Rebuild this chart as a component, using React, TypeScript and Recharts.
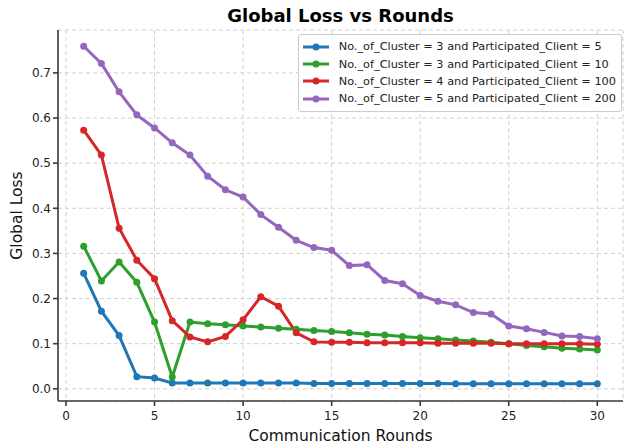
import { CartesianGrid, Line, LineChart, XAxis, YAxis } from 'recharts';

const rounds = [
  1, 2, 3, 4, 5, 6, 7, 8, 9, 10, 11, 12, 13, 14, 15,
  16, 17, 18, 19, 20, 21, 22, 23, 24, 25, 26, 27, 28, 29, 30,
];

const lossC3P5 = [
  0.256, 0.172, 0.118, 0.027, 0.024, 0.013, 0.013, 0.013, 0.013, 0.013,
  0.013, 0.013, 0.013, 0.012, 0.012, 0.012, 0.012, 0.012, 0.012, 0.012,
  0.012, 0.011, 0.011, 0.011, 0.011, 0.011, 0.011, 0.011, 0.011, 0.011,
];

const lossC3P10 = [
  0.316, 0.239, 0.281, 0.236, 0.148, 0.026, 0.148, 0.144, 0.142, 0.139,
  0.137, 0.134, 0.132, 0.129, 0.127, 0.124, 0.121, 0.119, 0.116, 0.113,
  0.111, 0.108, 0.106, 0.103, 0.1, 0.096, 0.093, 0.09, 0.088, 0.086,
];

const lossC4P100 = [
  0.573, 0.518, 0.356, 0.285, 0.244, 0.151, 0.115, 0.104, 0.116, 0.153,
  0.204, 0.183, 0.124, 0.104, 0.103, 0.103, 0.102, 0.102, 0.102, 0.102,
  0.101, 0.101, 0.101, 0.101, 0.1, 0.1, 0.1, 0.1, 0.1, 0.099,
];

const lossC5P200 = [
  0.759, 0.721, 0.658, 0.607, 0.578, 0.545, 0.518, 0.471, 0.441, 0.425,
  0.386, 0.358, 0.329, 0.313, 0.307, 0.273, 0.275, 0.24, 0.233, 0.207,
  0.194, 0.186, 0.169, 0.166, 0.139, 0.133, 0.125, 0.117, 0.116, 0.111,
];

const xTicks = [0, 5, 10, 15, 20, 25, 30];
const yTicks = [0, 0.1, 0.2, 0.3, 0.4, 0.5, 0.6, 0.7];

const series = [
  { key: 'c3p5', name: 'No._of_Cluster = 3 and Participated_Client = 5', colour: '#1f77b4', values: lossC3P5 },
  { key: 'c3p10', name: 'No._of_Cluster = 3 and Participated_Client = 10', colour: '#2ca02c', values: lossC3P10 },
  { key: 'c4p100', name: 'No._of_Cluster = 4 and Participated_Client = 100', colour: '#d62728', values: lossC4P100 },
  { key: 'c5p200', name: 'No._of_Cluster = 5 and Participated_Client = 200', colour: '#9467bd', values: lossC5P200 },
];

const data = rounds.map((r, i) => {
  const row: Record<string, number> = { round: r };
  series.forEach(s => {
    row[s.key] = s.values[i];
  });
  return row;
});

const font = '"DejaVu Sans", sans-serif';
const axisColour = '#3a3a3a';
const xDomain = [-0.45, 31.45];
const yDomain = [-0.027, 0.795];

function LegendBox() {
  return (
    <div
      style={{
        position: 'absolute',
        top: 34,
        right: 3,
        border: '1px solid #ccc',
        borderRadius: 3,
        background: 'rgba(255,255,255,0.85)',
        padding: '3px 5px 3px 4px',
        fontFamily: font,
        fontSize: 11.3,
        color: '#222',
      }}
    >
      {series.map(s => (
        <div key={s.key} style={{ display: 'flex', alignItems: 'center', height: 17.4 }}>
          <svg width={28} height={10} style={{ marginRight: 8 }}>
            <line x1={0} y1={5} x2={26} y2={5} stroke={s.colour} strokeWidth={3} />
            <circle cx={13} cy={5} r={3.5} fill={s.colour} />
          </svg>
          <span style={{ whiteSpace: 'nowrap' }}>{s.name}</span>
        </div>
      ))}
    </div>
  );
}

export default function App() {
  return (
    <div style={{ position: 'relative', width: 625, height: 444, background: '#fff' }}>
      <style>{'body { margin: 0; }'}</style>
      <div
        style={{
          position: 'absolute',
          left: 58,
          width: 565,
          top: 5,
          textAlign: 'center',
          fontFamily: font,
          fontWeight: 'bold',
          fontSize: 18,
          color: '#000',
        }}
      >
        Global Loss vs Rounds
      </div>
      <LineChart
        width={625}
        height={444}
        data={data}
        margin={{ top: 30, right: 2, left: 0, bottom: 0 }}
        style={{ fontFamily: font }}
      >
        <CartesianGrid stroke="#d0d0d0" strokeDasharray="4 3" />
        <XAxis
          dataKey="round"
          type="number"
          domain={xDomain}
          ticks={xTicks}
          allowDataOverflow
          height={43}
          tickSize={5}
          stroke={axisColour}
          strokeWidth={1.6}
          tick={{ fill: '#222', fontSize: 12, dy: 3 }}
          label={{ value: 'Communication Rounds', position: 'insideBottom', offset: 3, fill: '#111', fontSize: 15.5 }}
        />
        <XAxis xAxisId="top" orientation="top" dataKey="round" type="number" domain={xDomain} ticks={xTicks} allowDataOverflow height={0} tick={false} tickLine={false} stroke={axisColour} strokeWidth={1.6} />
        <YAxis
          type="number"
          domain={yDomain}
          ticks={yTicks}
          allowDataOverflow
          width={58}
          tickSize={5}
          stroke={axisColour}
          strokeWidth={1.6}
          tickFormatter={(v: number) => v.toFixed(1)}
          tick={{ fill: '#222', fontSize: 12 }}
          label={{ value: 'Global Loss', angle: -90, position: 'center', dx: -13, fill: '#111', fontSize: 15.5 }}
        />
        <YAxis yAxisId="right" orientation="right" type="number" domain={yDomain} ticks={yTicks} allowDataOverflow width={0} tick={false} tickLine={false} stroke={axisColour} strokeWidth={1.6} />
        {series.map(s => (
          <Line
            key={s.key}
            dataKey={s.key}
            name={s.name}
            stroke={s.colour}
            strokeWidth={3}
            dot={{ r: 3.5, fill: s.colour, stroke: s.colour, strokeWidth: 0 }}
            activeDot={false}
            isAnimationActive={false}
          />
        ))}
      </LineChart>
      <LegendBox />
    </div>
  );
}
